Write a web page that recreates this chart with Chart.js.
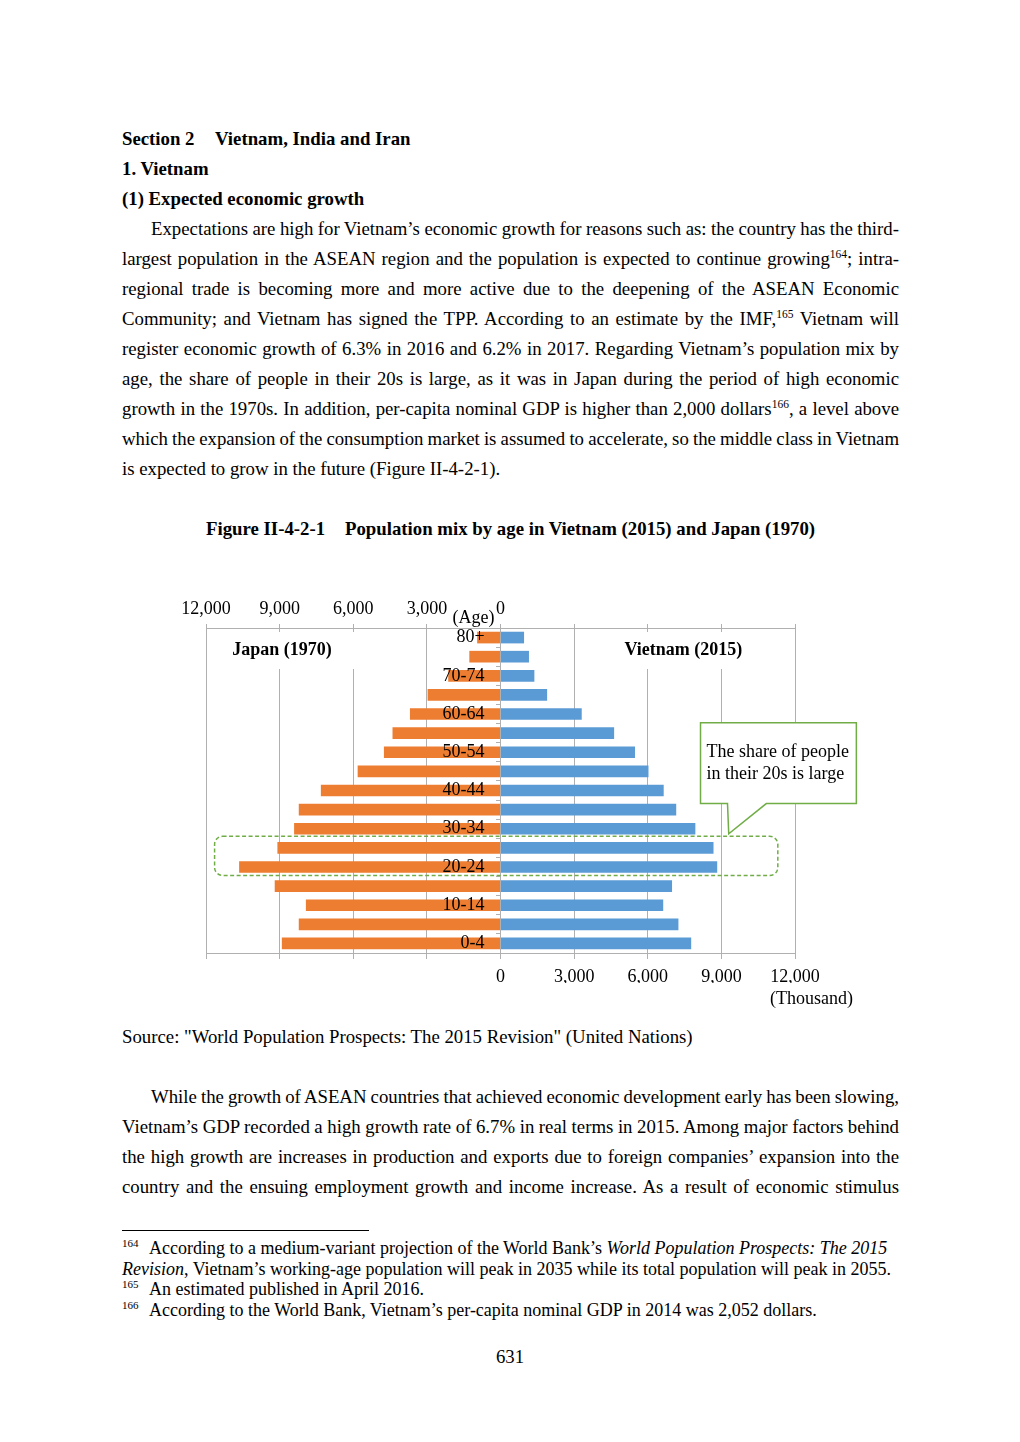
<!DOCTYPE html>
<html lang="en">
<head>
<meta charset="UTF-8" />
<title>Population mix by age in Vietnam (2015) and Japan (1970)</title>
<script src="https://cdn.jsdelivr.net/npm/chart.js@4.4.3/dist/chart.umd.min.js"></script>
<style>
	html, body { margin: 0; padding: 0; background: #fff; }
	body {
		width: 1020px; height: 1442px; position: relative; overflow: hidden;
		font-family: "Liberation Serif", "Times New Roman", serif; color: #000;
	}
	.ln { position: absolute; font-size: 18.8px; line-height: 30px; white-space: nowrap; }
	.b { font-weight: bold; }
	.fn { font-size: 18px; line-height: 20.5px; }
	sup { font-size: 11.5px; line-height: 0; vertical-align: baseline; position: relative; top: -0.65em; }
	.fn sup { font-size: 11px; }
	.rule { position: absolute; left: 122px; top: 1230px; width: 247px; height: 1px; background: #000; }
	.chartBox { position: absolute; left: 150px; top: 580px; width: 730px; height: 440px; }
</style>
</head>
<body>
	<div class="ln b" style="top:124px;left:122px">Section 2</div>
	<div class="ln b" style="top:124px;left:215px">Vietnam, India and Iran</div>
	<div class="ln b" style="top:154px;left:122px">1. Vietnam</div>
	<div class="ln b" style="top:184px;left:122px">(1) Expected economic growth</div>

	<div class="ln j" data-w="748" style="top:214px;left:151px">Expectations are high for Vietnam’s economic growth for reasons such as: the country has the third-</div>
	<div class="ln j" data-w="777" style="top:244px;left:122px">largest population in the ASEAN region and the population is expected to continue growing<sup>164</sup>; intra-</div>
	<div class="ln j" data-w="777" style="top:274px;left:122px">regional trade is becoming more and more active due to the deepening of the ASEAN Economic</div>
	<div class="ln j" data-w="777" style="top:304px;left:122px">Community; and Vietnam has signed the TPP. According to an estimate by the IMF,<sup>165</sup> Vietnam will</div>
	<div class="ln j" data-w="777" style="top:334px;left:122px">register economic growth of 6.3% in 2016 and 6.2% in 2017. Regarding Vietnam’s population mix by</div>
	<div class="ln j" data-w="777" style="top:364px;left:122px">age, the share of people in their 20s is large, as it was in Japan during the period of high economic</div>
	<div class="ln j" data-w="777" style="top:394px;left:122px">growth in the 1970s. In addition, per-capita nominal GDP is higher than 2,000 dollars<sup>166</sup>, a level above</div>
	<div class="ln j" data-w="777" style="top:424px;left:122px">which the expansion of the consumption market is assumed to accelerate, so the middle class in Vietnam</div>
	<div class="ln" style="top:454px;left:122px">is expected to grow in the future (Figure II-4-2-1).</div>

	<div class="ln b" style="top:514px;left:206px">Figure II-4-2-1</div>
	<div class="ln b" style="top:514px;left:345px">Population mix by age in Vietnam (2015) and Japan (1970)</div>

	<div class="chartBox"><canvas id="pyramidChart"></canvas></div>

	<div class="ln" style="top:1022px;left:122px">Source: "World Population Prospects: The 2015 Revision" (United Nations)</div>

	<div class="ln j" data-w="748" style="top:1082px;left:151px">While the growth of ASEAN countries that achieved economic development early has been slowing,</div>
	<div class="ln j" data-w="777" style="top:1112px;left:122px">Vietnam’s GDP recorded a high growth rate of 6.7% in real terms in 2015. Among major factors behind</div>
	<div class="ln j" data-w="777" style="top:1142px;left:122px">the high growth are increases in production and exports due to foreign companies’ expansion into the</div>
	<div class="ln j" data-w="777" style="top:1172px;left:122px">country and the ensuing employment growth and income increase. As a result of economic stimulus</div>

	<div class="rule"></div>
	<div class="ln fn" style="top:1238px;left:122px"><sup>164</sup></div>
	<div class="ln fn" style="top:1238px;left:149px">According to a medium-variant projection of the World Bank’s <i>World Population Prospects: The 2015</i></div>
	<div class="ln fn" style="top:1259px;left:122px"><i>Revision</i>, Vietnam’s working-age population will peak in 2035 while its total population will peak in 2055.</div>
	<div class="ln fn" style="top:1279px;left:122px"><sup>165</sup></div>
	<div class="ln fn" style="top:1279px;left:149px">An estimated published in April 2016.</div>
	<div class="ln fn" style="top:1300px;left:122px"><sup>166</sup></div>
	<div class="ln fn" style="top:1300px;left:149px">According to the World Bank, Vietnam’s per-capita nominal GDP in 2014 was 2,052 dollars.</div>

	<div class="ln" style="top:1342px;left:0;width:1020px;text-align:center">631</div>

	<script>
		// population by age group, thousands
		const ageGroups = ["80+", "75-79", "70-74", "65-69", "60-64", "55-59", "50-54", "45-49", "40-44",
			"35-39", "30-34", "25-29", "20-24", "15-19", "10-14", "5-9", "0-4"];
		const shownAges = ["80+", "70-74", "60-64", "50-54", "40-44", "30-34", "20-24", "10-14", "0-4"];
		const japan1970 = [950, 1270, 2130, 2970, 3690, 4400, 4750, 5820, 7320,
			8220, 8410, 9090, 10650, 9200, 7930, 8220, 8910];
		const vietnam2015 = [960, 1160, 1380, 1900, 3310, 4630, 5480, 6030, 6650,
			7160, 7940, 8680, 8830, 6990, 6630, 7250, 7770];

		// stretch full lines to the text block width
		function justifyLines() {
			document.querySelectorAll(".j").forEach((el) => {
				el.style.wordSpacing = "0px";
				const r = document.createRange();
				r.selectNodeContents(el);
				const natural = r.getBoundingClientRect().width;
				const spaces = (el.textContent.match(/ /g) || []).length;
				if (spaces) el.style.wordSpacing = (parseFloat(el.dataset.w) - natural) / spaces + "px";
			});
		}
		justifyLines();
		if (document.fonts) document.fonts.ready.then(justifyLines);

		const serif = '"Liberation Serif", "Times New Roman", serif';
		Chart.defaults.font.family = serif;
		Chart.defaults.font.size = 18;
		Chart.defaults.color = "#000";

		const gridColor = "#B0B0B0";
		const green = "#70AD47";

		const annotations = {
			id: "annotations",
			afterDatasetsDraw(chart) {
				const { ctx, chartArea, scales } = chart;
				const x = scales.x;
				const y = scales.y;
				ctx.save();

				// country captions on white patches
				ctx.fillStyle = "#fff";
				const jl = x.getPixelForValue(-11600), jr = x.getPixelForValue(-5700);
				ctx.fillRect(jl, chartArea.top + 4, jr - jl, 37);
				const vl = x.getPixelForValue(4800), vr = x.getPixelForValue(10200);
				ctx.fillRect(vl, chartArea.top + 4, vr - vl, 37);
				ctx.fillStyle = "#000";
				ctx.font = "bold 18px " + serif;
				ctx.textAlign = "center";
				ctx.textBaseline = "middle";
				ctx.fillText("Japan (1970)", x.getPixelForValue(-8900), chartArea.top + 22);
				ctx.fillText("Vietnam (2015)", x.getPixelForValue(7450), chartArea.top + 22);

				// axis notes
				ctx.font = "18px " + serif;
				ctx.fillText("(Age)", x.getPixelForValue(0) - 27, chartArea.top - 10);
				ctx.textAlign = "right";
				ctx.fillText("(Thousand)", x.getPixelForValue(12000) + 58, chartArea.bottom + 46);

				// dashed frame round the 20s
				const dl = x.getPixelForValue(-11650), dr = x.getPixelForValue(11300);
				const dt = y.getPixelForValue(11) - 11.5, db = y.getPixelForValue(12) + 8.5;
				const rad = 8;
				ctx.beginPath();
				ctx.moveTo(dl + rad, dt);
				ctx.lineTo(dr - rad, dt);
				ctx.arcTo(dr, dt, dr, dt + rad, rad);
				ctx.lineTo(dr, db - rad);
				ctx.arcTo(dr, db, dr - rad, db, rad);
				ctx.lineTo(dl + rad, db);
				ctx.arcTo(dl, db, dl, db - rad, rad);
				ctx.lineTo(dl, dt + rad);
				ctx.arcTo(dl, dt, dl + rad, dt, rad);
				ctx.closePath();
				ctx.strokeStyle = green;
				ctx.lineWidth = 1.5;
				ctx.setLineDash([4, 2.5]);
				ctx.stroke();
				ctx.setLineDash([]);

				// callout
				const cl = x.getPixelForValue(8150), cr = x.getPixelForValue(14500);
				const ct = y.getPixelForValue(5) - 10.5, cb = y.getPixelForValue(9) - 6;
				const tipX = x.getPixelForValue(9300), tipY = y.getPixelForValue(11) - 14;
				ctx.beginPath();
				ctx.moveTo(cl, ct);
				ctx.lineTo(cr, ct);
				ctx.lineTo(cr, cb);
				ctx.lineTo(x.getPixelForValue(10830), cb);
				ctx.lineTo(tipX, tipY);
				ctx.lineTo(x.getPixelForValue(9250), cb);
				ctx.lineTo(cl, cb);
				ctx.closePath();
				ctx.fillStyle = "#fff";
				ctx.fill();
				ctx.strokeStyle = green;
				ctx.lineWidth = 1.5;
				ctx.stroke();
				ctx.fillStyle = "#000";
				ctx.textAlign = "left";
				const mid = (ct + cb) / 2;
				ctx.fillText("The share of people", cl + 6, mid - 11);
				ctx.fillText("in their 20s is large", cl + 6, mid + 11);

				ctx.restore();
			},
		};

		const ctx = document.getElementById("pyramidChart").getContext("2d");
		const pyramid = new Chart(ctx, {
			type: "bar",
			data: {
				labels: ageGroups,
				datasets: [
					{
						label: "Japan (1970)",
						data: japan1970.map((v) => -v),
						backgroundColor: "#ED7D31",
						barPercentage: 0.61,
						categoryPercentage: 1,
					},
					{
						label: "Vietnam (2015)",
						data: vietnam2015,
						backgroundColor: "#5B9BD5",
						barPercentage: 0.61,
						categoryPercentage: 1,
					},
				],
			},
			options: {
				indexAxis: "y",
				responsive: true,
				maintainAspectRatio: false,
				animation: false,
				layout: { padding: { left: 56, right: 85, top: 20, bottom: 37 } },
				plugins: {
					legend: { display: false },
					tooltip: { enabled: false },
				},
				scales: {
					x: {
						type: "linear",
						position: "bottom",
						stacked: true,
						min: -12000,
						max: 12000,
						ticks: {
							stepSize: 3000,
							padding: 7,
							maxRotation: 0,
							autoSkip: false,
							callback: (v) => (v >= 0 ? v.toLocaleString("en-US") : ""),
						},
						grid: { color: gridColor, tickLength: 6 },
						border: { color: gridColor },
						afterFit: (s) => { s.height = 30; },
					},
					x2: {
						type: "linear",
						position: "top",
						min: -12000,
						max: 12000,
						ticks: {
							stepSize: 3000,
							padding: 4,
							maxRotation: 0,
							autoSkip: false,
							callback: (v) => (v <= 0 ? Math.abs(v).toLocaleString("en-US") : ""),
						},
						grid: { color: gridColor, tickLength: 4, drawOnChartArea: false },
						border: { color: gridColor },
						afterFit: (s) => { s.height = 28; },
					},
					// centre axis line with small ticks between age groups
					y: {
						type: "category",
						stacked: true,
						position: { x: 0 },
						ticks: { display: false },
						grid: { offset: true, drawOnChartArea: false, tickLength: 4, color: gridColor },
						border: { color: gridColor },
					},
					// age labels, set a little left of the centre line
					yLabels: {
						type: "category",
						offset: true,
						position: { x: -650 },
						ticks: {
							autoSkip: false,
							z: 1,
							callback: (v, i) => (shownAges.includes(ageGroups[i]) ? ageGroups[i] : ""),
						},
						grid: { display: false },
						border: { display: false },
					},
				},
			},
			plugins: [annotations],
		});
	</script>
</body>
</html>
